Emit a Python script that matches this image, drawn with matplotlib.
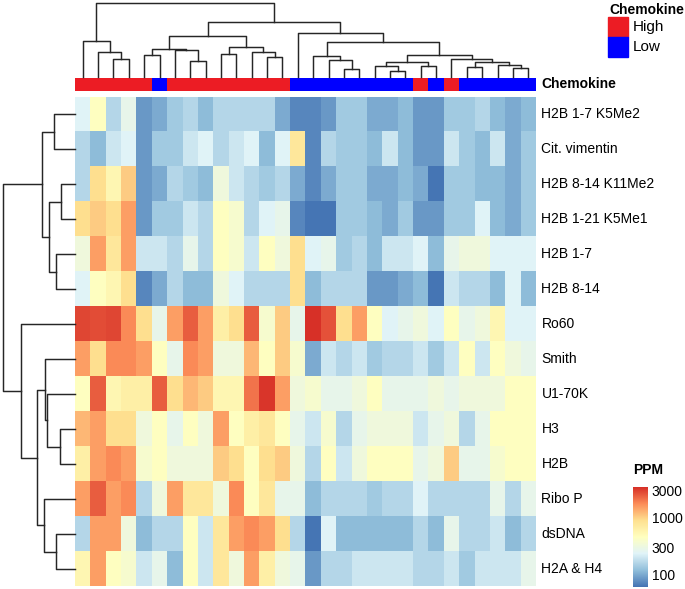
"""
Clustered heatmap of autoantibody levels (PPM) with chemokine annotation
"""

import matplotlib
matplotlib.use('Agg')
import numpy as np
from matplotlib import pyplot as plt
from matplotlib.cm import ScalarMappable
from matplotlib.colors import LinearSegmentedColormap, ListedColormap, LogNorm
from matplotlib.patches import Rectangle
from matplotlib.ticker import NullLocator

plt.rcParams['font.family'] = ['Liberation Sans', 'DejaVu Sans']

antigens = ['H2B 1-7 K5Me2', 'Cit. vimentin', 'H2B 8-14 K11Me2', 'H2B 1-21 K5Me1',
            'H2B 1-7', 'H2B 8-14', 'Ro60', 'Smith', 'U1-70K', 'H3', 'H2B',
            'Ribo P', 'dsDNA', 'H2A & H4']

chemokine = ['High'] * 5 + ['Low'] + ['High'] * 8 + ['Low'] * 8 + \
            ['High', 'Low', 'High'] + ['Low'] * 5

# PPM per sample, in the clustered order shown
h2b_1_7_k5me2 = [236, 462, 169, 279, 87, 103, 143, 169, 121, 169, 169, 169, 169, 103, 73,
                 73, 87, 143, 143, 103, 103, 121, 87, 87, 143, 143, 169, 121, 103, 121]
cit_vimentin = [169, 121, 200, 236, 87, 143, 143, 200, 236, 169, 200, 236, 121, 236, 763,
                73, 169, 143, 143, 121, 200, 121, 87, 87, 200, 143, 121, 200, 103, 143]
h2b_8_14_k11me2 = [169, 902, 546, 1066, 87, 103, 169, 143, 121, 330, 200, 169, 143, 169, 103,
                   73, 103, 143, 143, 103, 103, 121, 103, 62, 143, 143, 121, 121, 103, 143]
h2b_1_21_k5me1 = [902, 1066, 902, 1491, 87, 143, 143, 200, 169, 462, 390, 169, 236, 279, 73,
                  62, 64, 143, 143, 121, 103, 143, 87, 87, 143, 143, 236, 121, 103, 143]
h2b_1_7 = [330, 1491, 763, 1491, 200, 200, 169, 279, 169, 462, 390, 200, 462, 330, 902,
           236, 279, 143, 169, 121, 200, 200, 236, 121, 279, 330, 330, 236, 236, 236]
h2b_8_14 = [236, 462, 546, 902, 73, 103, 169, 121, 121, 330, 236, 169, 169, 169, 902,
            121, 169, 169, 169, 87, 87, 103, 121, 62, 200, 169, 169, 121, 236, 121]
ro60 = [2913, 2800, 2913, 1763, 902, 279, 1491, 2464, 1491, 645, 902, 2464, 390, 1066, 279,
        3445, 2700, 902, 1491, 462, 236, 279, 330, 236, 462, 279, 330, 546, 236, 236]
smith = [1491, 902, 1763, 1763, 1491, 462, 279, 1763, 1491, 330, 330, 1261, 462, 1066, 390,
         103, 200, 169, 200, 143, 169, 169, 200, 143, 200, 462, 200, 462, 330, 279]
u1_70k = [462, 2464, 546, 645, 645, 2464, 902, 1261, 1066, 546, 546, 2084, 3200, 1491, 330,
          390, 279, 279, 330, 462, 279, 279, 279, 330, 279, 330, 330, 330, 462, 462]
h3 = [1261, 1491, 902, 902, 330, 462, 279, 462, 330, 1491, 462, 645, 763, 462, 279,
      200, 390, 169, 279, 330, 330, 330, 200, 279, 330, 169, 279, 462, 462, 462]
h2b = [645, 1491, 1763, 1491, 390, 462, 330, 330, 330, 1066, 902, 462, 902, 1066, 330,
       169, 462, 200, 330, 462, 462, 462, 279, 330, 1066, 279, 279, 390, 462, 462]
ribo_p = [1491, 2464, 1491, 1763, 169, 330, 1491, 763, 763, 330, 1763, 462, 763, 279, 279,
          121, 169, 169, 169, 143, 169, 169, 236, 169, 169, 169, 169, 279, 169, 279]
dsdna = [169, 1491, 1491, 330, 121, 169, 169, 462, 200, 763, 1491, 1763, 1491, 902, 169,
         62, 236, 121, 121, 121, 121, 121, 169, 121, 279, 169, 169, 200, 121, 169]
h2a_h4 = [546, 1491, 462, 390, 200, 279, 121, 462, 200, 763, 330, 1491, 645, 330, 279,
          87, 169, 169, 200, 200, 200, 200, 169, 169, 200, 143, 200, 200, 200, 279]

# dendrograms: [height, left, right], leaves are positions in the display order
col_tree = [73.7,
            [35.3, 0, [24.7, 1, [17.7, 2, 3]]],
            [54.7,
             [40.3,
              [28, [21.3, 4, 5], [26.5, 6, [15.3, 7, 8]]],
              [30, [23, 9, 10], [24.7, 11, [19.7, 12, 13]]]],
             [43.7, 14,
              [34.5,
               [21, 15, [17, 16, [7.5, 17, 18]]],
               [21.7,
                [14.3, [10.3, 19, [5.3, 20, 21]], [11, 22, 23]],
                [18, 24, [14.7, [9.3, 25, 26], [12, 27, [8.7, 28, 29]]]]]]]]]
row_tree = [72.3,
            [33.3, [21, 0, 1], [25.7, [14, 2, 3], [19, 4, 5]]],
            [54.3, 6,
             [38.3,
              [30, 7, [28.3, 8, [15, 9, 10]]],
              [30.7, 11, [19.3, 12, 13]]]]]

ppm = np.array([h2b_1_7_k5me2, cit_vimentin, h2b_8_14_k11me2, h2b_1_21_k5me1, h2b_1_7,
                h2b_8_14, ro60, smith, u1_70k, h3, h2b, ribo_p, dsdna, h2a_h4], dtype=float)
n_rows, n_cols = ppm.shape

cmap = LinearSegmentedColormap.from_list(
    'rdylbu', ['#4575B4', '#91BFDB', '#E0F3F8', '#FFFFBF', '#FEE090', '#FC8D59', '#D73027'], N=100)
norm = LogNorm(vmin=ppm.min(), vmax=ppm.max())
chem_colors = {'High': '#EC1C24', 'Low': '#0000FF'}
line_c = '#262626'

W, H = 685, 589
fig = plt.figure(figsize=(W / 100, H / 100), dpi=100)


def px_axes(x0, y0, x1, y1):
    ax = fig.add_axes([x0 / W, 1 - y1 / H, (x1 - x0) / W, (y1 - y0) / H])
    ax.set_axis_off()
    return ax


def draw_tree(ax, node, top):
    if isinstance(node, int):
        return node + 0.5, 0.0
    h, left, right = node
    pl, hl = draw_tree(ax, left, top)
    pr, hr = draw_tree(ax, right, top)
    if top:
        ax.plot([pl, pl, pr, pr], [hl, h, h, hr], c=line_c, lw=1.05, clip_on=False)
    else:
        ax.plot([hl, h, h, hr], [pl, pl, pr, pr], c=line_c, lw=1.05, clip_on=False)
    return (pl + pr) / 2, h


# Heatmap
ax = px_axes(75, 97, 536, 586.5)
ax.imshow(ppm, cmap=cmap, norm=norm, aspect='auto', interpolation='nearest',
          extent=(0, n_cols, n_rows, 0))
for i, name in enumerate(antigens):
    ax.text(n_cols + 0.35, i + 0.5, name, fontsize=10, va='center', ha='left')

# Column annotation
ax_bar = px_axes(75, 77.5, 536, 91.5)
codes = np.array([[0 if c == 'High' else 1 for c in chemokine]])
ax_bar.imshow(codes, cmap=ListedColormap([chem_colors['High'], chem_colors['Low']]),
              vmin=0, vmax=1, aspect='auto', interpolation='nearest',
              extent=(0, n_cols, 1, 0))
ax_bar.text(n_cols + 0.35, 0.5, 'Chemokine', fontsize=10, fontweight='bold',
            va='center', ha='left')

# Dendrograms
ax_ct = px_axes(75, 1.5, 536, 76.5)
ax_ct.set_xlim(0, n_cols)
ax_ct.set_ylim(0, 75)
draw_tree(ax_ct, col_tree, True)

ax_rt = px_axes(0, 97, 75, 586.5)
ax_rt.set_xlim(75, 0)
ax_rt.set_ylim(n_rows, 0)
draw_tree(ax_rt, row_tree, False)

# Chemokine legend
fig.text(609 / W, 1 - 9.5 / H, 'Chemokine', fontsize=10, fontweight='bold', va='center')
for k, lab in enumerate(['High', 'Low']):
    y0 = 17.3 + k * 19.7
    fig.patches.append(Rectangle((608.3 / W, 1 - (y0 + 19.7) / H), 20 / W, 19.7 / H,
                                 transform=fig.transFigure, color=chem_colors[lab]))
    fig.text(633 / W, 1 - (y0 + 10) / H, lab, fontsize=11, va='center')

# PPM colour key
fig.text(633 / W, 1 - 470 / H, 'PPM', fontsize=10, fontweight='bold', va='center')
cax = fig.add_axes([633.3 / W, 1 - 586.5 / H, 15 / W, 99.5 / H])
cb = fig.colorbar(ScalarMappable(norm=norm, cmap=cmap), cax=cax)
cb.outline.set_visible(False)
cb.set_ticks([100, 300, 1000, 3000])
cb.set_ticklabels(['100', '300', '1000', '3000'])
cax.yaxis.set_minor_locator(NullLocator())
cax.tick_params(length=0, pad=2.5, labelsize=10)

fig.savefig('out.png', dpi=100)
